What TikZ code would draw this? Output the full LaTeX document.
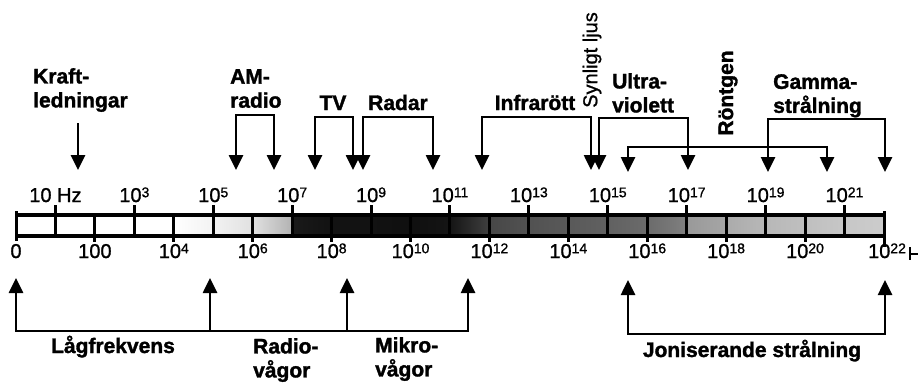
\documentclass[tikz,border=0pt]{standalone}
\usepackage{fontspec}
\setmainfont{Liberation Sans}
\newfontfamily\heavyfont{Liberation Sans Bold}[FakeBold=1.5]
\newfontfamily\numfont{Liberation Sans}[FakeBold=1]
\usetikzlibrary{arrows.meta}
\newcommand{\pw}[1]{10\raisebox{4.8pt}{\fontsize{14}{14}\selectfont #1}}
\tikzset{
  lbl/.style={font=\fontsize{21}{24}\selectfont\heavyfont, inner sep=0pt, align=left},
  vlbl/.style={font=\fontsize{20}{24}\selectfont\numfont, inner sep=0pt},
  num/.style={font=\fontsize{20}{22}\selectfont\numfont, inner sep=0pt},
  oneway/.style={line width=2.6pt, -{Triangle[width=14pt,length=15pt]}},
  twoway/.style={line width=2.6pt, {Triangle[width=14pt,length=15pt]}-{Triangle[width=14pt,length=15pt]}},
  tickline/.style={line width=3pt},
  barframe/.style={line width=3.6pt},
}
\begin{document}
\begin{tikzpicture}[x=1pt,y=-1pt]
\useasboundingbox (0,0) rectangle (920,383);
\fill[white] (0,0) rectangle (920,383);
% bar cells
\foreach \d/\l/\r in {0/0/0,1/0/0,2/0/0,3/0/0,4/0/5,5/5/12,6/12/30,7/90/93,8/93/93,9/93/94,10/94/92,11/92/75,12/72/68,13/68/65,14/65/62,15/62/58,16/58/50,17/40/35,18/33/28,19/28/25,20/25/22,21/22/20}
  \shade[left color=black!\l, right color=black!\r] ({16+\d*39.45},215) rectangle ({16+(\d+1)*39.45},236);
\draw[barframe] (16,215) -- (884,215);
\draw[barframe] (16,236) -- (884,236);
\draw[tickline] (16,211) -- (16,241);
\draw[tickline] (884,211) -- (884,247);
\foreach \d in {1,3,...,21}
  \draw[tickline] ({16+\d*39.45},205) -- ({16+\d*39.45},236);
\foreach \d in {2,4,...,20}
  \draw[tickline] ({16+\d*39.45},215) -- ({16+\d*39.45},242);
% tick labels
\foreach \d/\t in {1/{10 Hz},3/{\pw{3}},5/{\pw{5}},7/{\pw{7}},9/{\pw{9}},11/{\pw{11}},13/{\pw{13}},15/{\pw{15}},17/{\pw{17}},19/{\pw{19}},21/{\pw{21}}}
  \node[num, anchor=base] (top\d) at ({16+\d*39.45},202) {\t};
\foreach \d/\t in {0/0,2/100,4/{\pw{4}},6/{\pw{6}},8/{\pw{8}},10/{\pw{10}},12/{\pw{12}},14/{\pw{14}},16/{\pw{16}},18/{\pw{18}},20/{\pw{20}}}
  \node[num, anchor=base] (bot\d) at ({16+\d*39.45},258) {\t};
\node[num, anchor=base] (bot22) at (887,258) {\pw{22}};
\coordinate (endA) at (910,247);
\coordinate (endB) at (910,260);
\coordinate (endC) at (918,253.5);
\draw[line width=2pt] (endA) -- (endB);
\draw[line width=2pt] (endA |- endC) -- (endC);
% top labels
\node[lbl, anchor=north west] (kraft) at (33,68) {Kraft-\\ledningar};
\node[lbl, anchor=north west] (am) at (230,69) {AM-\\radio};
\node[lbl, anchor=base] (tv) at (333,110) {TV};
\node[lbl, anchor=base] (radar) at (398,110) {Radar};
\node[lbl, anchor=base] (ir) at (535,110) {Infrarött};
\node[vlbl, rotate=90] (syn) at (592,60) {Synligt ljus};
\node[lbl, anchor=north west] (uv) at (612,73) {Ultra-\\violett};
\node[lbl, rotate=90] (ront) at (728,93) {Röntgen};
\node[lbl, anchor=north west] (gam) at (773,74) {Gamma-\\strålning};
% top arrows
\coordinate (krTop) at (78,123);
\coordinate (krTip) at (78,170);
\draw[oneway] (krTop) -- (krTip);
\coordinate (am1) at (236,170); \coordinate (am2) at (274,170);
\draw[twoway] (am1) -- ++(0,-55) -| (am2);
\coordinate (tv1) at (315,170); \coordinate (tv2) at (353,170);
\draw[twoway] (tv1) -- ++(0,-53) -| (tv2);
\coordinate (ra1) at (363,170); \coordinate (ra2) at (433,170);
\draw[twoway] (ra1) -- ++(0,-53) -| (ra2);
\coordinate (ir1) at (482,170); \coordinate (ir2) at (591,170);
\draw[twoway] (ir1) -- ++(0,-53) -| (ir2);
\coordinate (uv1) at (599,170); \coordinate (uv2) at (688,170);
\draw[twoway] (uv1) -- ++(0,-52) -| (uv2);
\coordinate (ro1) at (628,172); \coordinate (ro2) at (827,172);
\draw[twoway] (ro1) -- ++(0,-25) -| (ro2);
\coordinate (ga1) at (768,172); \coordinate (ga2) at (885,172);
\draw[twoway] (ga1) -- ++(0,-53) -| (ga2);
% bottom arrows
\coordinate (lo1) at (16,278); \coordinate (lo2) at (468,278);
\coordinate (lo3) at (210,278); \coordinate (lo4) at (347,278);
\draw[twoway] (lo1) -- ++(0,53) -| (lo2);
\draw[oneway] (lo3 |- 0,331) -- (lo3);
\draw[oneway] (lo4 |- 0,331) -- (lo4);
\coordinate (jo1) at (628,280); \coordinate (jo2) at (885,280);
\draw[twoway] (jo1) -- ++(0,54) -| (jo2);
% bottom labels
\node[lbl, anchor=base] (lag) at (113,353) {Lågfrekvens};
\node[lbl, anchor=north west] (radio) at (253,338) {Radio-\\vågor};
\node[lbl, anchor=north west] (mikro) at (375,337) {Mikro-\\vågor};
\node[lbl, anchor=base] (jon) at (752,357) {Joniserande strålning};
\end{tikzpicture}
\end{document}
